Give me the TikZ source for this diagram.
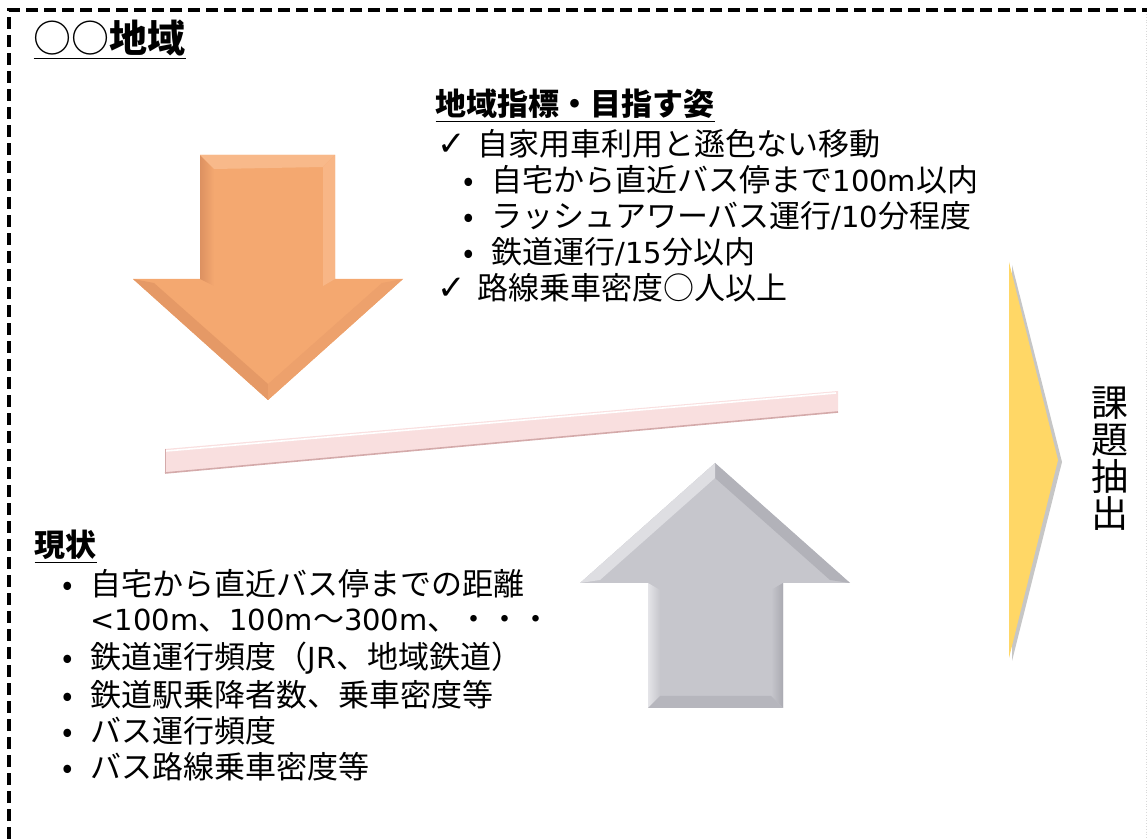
\documentclass[tikz,border=0pt]{standalone}
\usepackage{fontspec}
\setmainfont{Noto Sans CJK JP}
\newfontfamily\checkfont{DejaVu Sans}
\newfontfamily\latfont{DejaVu Sans}
\usetikzlibrary{positioning}

\definecolor{orangearrow}{HTML}{F4A870}
\definecolor{orangedark}{HTML}{D2875A}
\definecolor{orangelight}{HTML}{FBC59C}
\definecolor{greyarrow}{HTML}{C6C6CC}
\definecolor{greydark}{HTML}{9E9EA6}
\definecolor{greylight}{HTML}{E4E4E8}
\definecolor{pinkbar}{HTML}{F9DFDF}
\definecolor{pinkedge}{HTML}{D4AAAA}
\definecolor{yellowtri}{HTML}{FFD766}

\tikzset{
  txt/.style={anchor=west,inner sep=0pt,font=\fontsize{15.5}{18}\selectfont},
  headtxt/.style={txt,font=\fontsize{15.5}{18}\selectfont\bfseries},
  titletxt/.style={txt,font=\fontsize{19}{22}\selectfont\bfseries},
  vtxt/.style={inner sep=0pt,align=center,font=\fontsize{18.5}{18.5}\selectfont},
  frame/.style={draw,line width=1.6pt,dash pattern=on 6pt off 3pt}
}

\newcommand{\chk}{\makebox[20pt][l]{\checkfont\fontsize{17}{17}\selectfont ✓}}
\newcommand{\bul}{\makebox[14pt][l]{•}}
\newcommand{\lat}[1]{{\latfont\fontsize{14.5}{18}\selectfont #1}}

\begin{document}
\begin{tikzpicture}[x=0.5pt,y=-0.5pt,semithick]
\useasboundingbox (0,0) rectangle (1147,839);

% frame
\path [frame] (9,839) -- (9,10) -- (1147,10);
\path [draw,gray!30,densely dotted,thin] (1146,14) -- (1146,839);

% title
\node [titletxt] (title) at (33,40) {\underline{{\mdseries ○○}地域}};

% orange arrow (goal)
\path [fill=orangearrow]
    (200,155) -- (335,155) -- (335,279) -- (403,279) -- (268,400)
    -- (133,279) -- (200,279) -- cycle;
\shade [left color=orangedark!70!orangearrow,right color=orangearrow]
    (200,155) -- (214,169) -- (214,286) -- (200,279) -- cycle;
\path [fill=orangelight!60!orangearrow]
    (200,155) -- (335,155) -- (323,167) -- (214,169) -- cycle;
\path [fill=orangedark!45!orangearrow]
    (133,279) -- (268,400) -- (268,384) -- (154,283) -- cycle;
\path [fill=orangedark!20!orangearrow]
    (403,279) -- (268,400) -- (268,384) -- (382,283) -- cycle;
\path [fill=orangelight!50!orangearrow]
    (335,155) -- (323,167) -- (323,286) -- (335,279) -- cycle;

% pink bar
\path [fill=pinkbar] (165,449) -- (838,391) -- (838,412) -- (165,473) -- cycle;
\path [draw,pinkedge,thick] (165,473) -- (838,412);
\path [draw,white,thick] (166,451) -- (836,393);
\path [draw,pinkedge,thin] (165,449) -- (165,473);

% grey arrow (now)
\path [fill=greyarrow]
    (715,463) -- (850,583) -- (783,583) -- (783,708) -- (648,708)
    -- (648,583) -- (580,583) -- cycle;
\path [fill=greydark!50!greyarrow]
    (715,463) -- (850,583) -- (830,580) -- (715,478) -- cycle;
\path [fill=greylight!80!greyarrow]
    (715,463) -- (580,583) -- (600,580) -- (715,478) -- cycle;
\shade [left color=greylight,right color=greyarrow]
    (648,583) -- (660,590) -- (660,696) -- (648,708) -- cycle;
\shade [left color=greyarrow,right color=greydark!70!greyarrow]
    (783,583) -- (771,590) -- (771,696) -- (783,708) -- cycle;
\path [fill=greydark!40!greyarrow]
    (648,708) -- (660,696) -- (771,696) -- (783,708) -- cycle;

% yellow chevron
\path [fill=gray!45] (1012,265) -- (1062,462) -- (1012,661) -- cycle;
\path [fill=yellowtri] (1009,262) -- (1058,460) -- (1009,658) -- cycle;

\node [vtxt] (issue) at (1110,459) {課\\題\\抽\\出};

% goal text
\node [headtxt] (goal) at (435,106) {\underline{地域指標・目指す姿}};
\node [txt] (g1) at (437,144) {\chk 自家用車利用と遜色ない移動};
\node [txt] (g2) at (463,180) {\bul 自宅から直近バス停まで\lat{100m}以内};
\node [txt] (g3) at (463,216) {\bul ラッシュアワーバス運行\lat{/10}分程度};
\node [txt] (g4) at (463,252) {\bul 鉄道運行\lat{/15}分以内};
\node [txt] (g5) at (437,288) {\chk 路線乗車密度○人以上};

% current text
\node [headtxt] (now) at (34,547) {\underline{現状}};
\node [txt] (n1) at (62,584) {\bul 自宅から直近バス停までの距離};
\node [txt] (n2) at (90,621) {\lat{<100m}、\lat{100m}～\lat{300m}、・・・};
\node [txt] (n3) at (62,658) {\bul 鉄道運行頻度（\lat{JR}、地域鉄道）};
\node [txt] (n4) at (62,695) {\bul 鉄道駅乗降者数、乗車密度等};
\node [txt] (n5) at (62,731) {\bul バス運行頻度};
\node [txt] (n6) at (62,767) {\bul バス路線乗車密度等};

\end{tikzpicture}
\end{document}
